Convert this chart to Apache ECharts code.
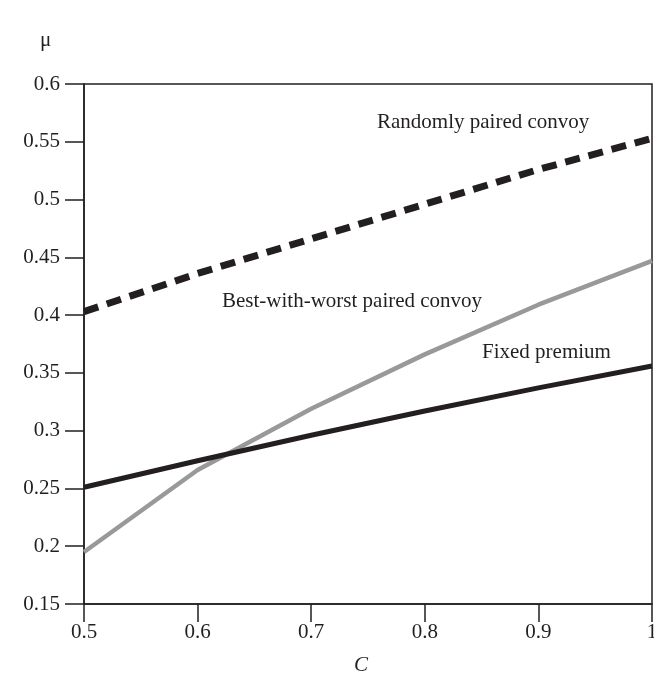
<!DOCTYPE html>
<html>
<head>
<meta charset="utf-8">
<script src="https://cdn.jsdelivr.net/npm/echarts@6/dist/echarts.min.js"></script>
<style>
html,body{margin:0;padding:0;background:#fff;overflow:hidden;}
#chart{width:654px;height:677px;}
</style>
</head>
<body>
<div id="chart"></div>
<script>
// C values (x axis)
var cValues = [0.5, 0.6, 0.7, 0.8, 0.9, 1.0];
// mu values per series
var randomlyPaired = [0.403, 0.436, 0.466, 0.496, 0.526, 0.553];
var bestWithWorst = [0.195, 0.266, 0.319, 0.366, 0.409, 0.447];
var fixedPremium = [0.251, 0.274, 0.296, 0.317, 0.337, 0.356];
// labels
var seriesNames = ['Randomly paired convoy', 'Best-with-worst paired convoy', 'Fixed premium'];
var xAxisName = 'C';
var yAxisName = 'μ';

function pairs(xs, ys) { return xs.map(function (x, i) { return [x, ys[i]]; }); }

var ink = '#231f20';
var font = '"Liberation Serif", "Times New Roman", serif';
var chart = echarts.init(document.getElementById('chart'), null, {renderer: 'canvas'});
chart.setOption({
  backgroundColor: '#fff',
  animation: false,
  grid: {left: 84, right: 2, top: 84, bottom: 73, show: true, borderColor: ink, borderWidth: 1.5,
         backgroundColor: 'transparent', containLabel: false, outerBoundsMode: 'none'},
  xAxis: {
    type: 'value', min: 0.5, max: 1, interval: 0.1,
    axisLine: {show: true, lineStyle: {color: ink, width: 1.5}},
    axisTick: {show: true, inside: false, length: 18, lineStyle: {color: ink, width: 1.5}},
    axisLabel: {color: ink, fontFamily: font, fontSize: 21, margin: 18, showMaxLabel: true, showMinLabel: true},
    splitLine: {show: false}
  },
  yAxis: {
    type: 'value', min: 0.15, max: 0.6, interval: 0.05,
    axisLine: {show: true, lineStyle: {color: ink, width: 1.5}},
    axisTick: {show: true, inside: false, length: 19, lineStyle: {color: ink, width: 1.5}},
    axisLabel: {color: ink, fontFamily: font, fontSize: 21, margin: 24},
    splitLine: {show: false}
  },
  graphic: [
    {type: 'text', left: 40, top: 30, style: {text: yAxisName, font: '21px ' + font, fill: ink}},
    {type: 'text', left: 354, top: 655, style: {text: xAxisName, font: 'italic 21px ' + font, fill: ink}},
    {type: 'text', left: 377, top: 112, style: {text: seriesNames[0], font: '21px ' + font, fill: ink}},
    {type: 'text', left: 222, top: 291, style: {text: seriesNames[1], font: '21px ' + font, fill: ink}},
    {type: 'text', left: 482, top: 342, style: {text: seriesNames[2], font: '21px ' + font, fill: ink}}
  ],
  series: [
    {name: seriesNames[1], type: 'line', data: pairs(cValues, bestWithWorst), showSymbol: false, symbol: 'none',
     lineStyle: {color: '#999999', width: 4.5}, z: 2},
    {name: seriesNames[2], type: 'line', data: pairs(cValues, fixedPremium), showSymbol: false, symbol: 'none',
     lineStyle: {color: ink, width: 5}, z: 3},
    {name: seriesNames[0], type: 'line', data: pairs(cValues, randomlyPaired), showSymbol: false, symbol: 'none',
     lineStyle: {color: ink, width: 7, type: [15, 9], cap: 'butt'}, z: 3}
  ]
});
</script>
</body>
</html>
